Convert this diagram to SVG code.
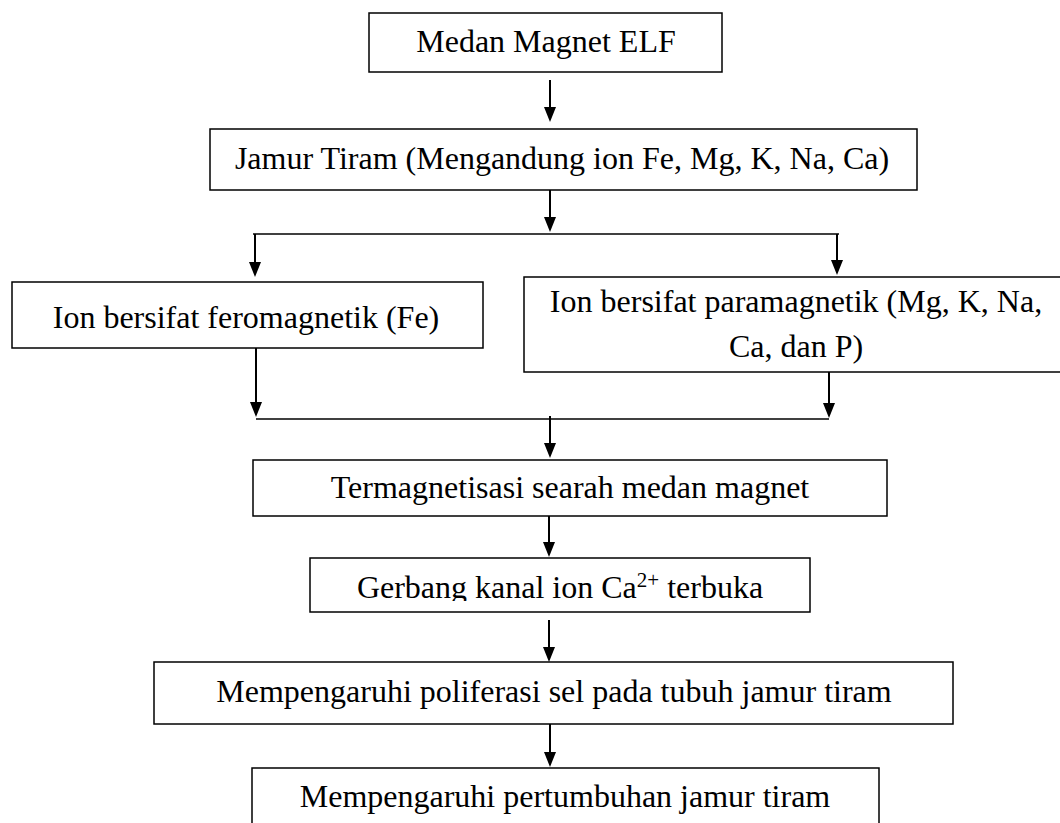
<svg xmlns="http://www.w3.org/2000/svg" width="1060" height="823" viewBox="0 0 1060 823">
  <style>
    .box { fill: #ffffff; stroke: #000000; stroke-width: 1.5; }
    .lbl { font-family: "Liberation Serif", "Times New Roman", serif; font-size: 32px; fill: #000000; text-anchor: middle; }
    .shaft { stroke: #000000; stroke-width: 2; fill: none; }
    .bus { stroke: #000000; stroke-width: 1.5; fill: none; }
  </style>
  <defs>
    <marker id="arrow" viewBox="0 0 15 12" refX="12" refY="6" markerWidth="15" markerHeight="12" markerUnits="userSpaceOnUse" orient="auto">
      <path d="M0,0 L15,6 L0,12 z" fill="#000000"/>
    </marker>
    <clipPath id="clipGerbang">
      <rect x="300" y="555" width="520" height="46"/>
    </clipPath>
  </defs>
  <rect x="0" y="0" width="1060" height="823" fill="#ffffff"/>

  <g id="connectors">
    <line class="shaft" x1="550" y1="80" x2="550" y2="119" marker-end="url(#arrow)"/>
    <line class="shaft" x1="550" y1="190" x2="550" y2="229" marker-end="url(#arrow)"/>
    <line class="bus" x1="253" y1="234" x2="839" y2="234"/>
    <line class="shaft" x1="255" y1="234" x2="255" y2="274" marker-end="url(#arrow)"/>
    <line class="shaft" x1="837" y1="234" x2="837" y2="272" marker-end="url(#arrow)"/>
    <line class="shaft" x1="256" y1="348" x2="256" y2="414" marker-end="url(#arrow)"/>
    <line class="shaft" x1="829" y1="372" x2="829" y2="415" marker-end="url(#arrow)"/>
    <line class="bus" x1="256" y1="419" x2="829" y2="419"/>
    <line class="shaft" x1="550" y1="416" x2="550" y2="455" marker-end="url(#arrow)"/>
    <line class="shaft" x1="549" y1="516" x2="549" y2="554" marker-end="url(#arrow)"/>
    <line class="shaft" x1="549" y1="620" x2="549" y2="659" marker-end="url(#arrow)"/>
    <line class="shaft" x1="550" y1="724" x2="550" y2="764" marker-end="url(#arrow)"/>
  </g>

  <g id="node-medan">
    <rect class="box" x="369" y="13" width="353" height="59"/>
    <text class="lbl" x="546" y="52">Medan Magnet ELF</text>
  </g>

  <g id="node-jamur">
    <rect class="box" x="210" y="129" width="707" height="61"/>
    <text class="lbl" x="562" y="169">Jamur Tiram (Mengandung ion Fe, Mg, K, Na, Ca)</text>
  </g>

  <g id="node-fero">
    <rect class="box" x="12" y="282" width="471" height="66"/>
    <text class="lbl" x="246" y="328">Ion bersifat feromagnetik (Fe)</text>
  </g>

  <g id="node-para">
    <rect class="box" x="524" y="277" width="540" height="95"/>
    <text class="lbl" x="796" y="312">Ion bersifat paramagnetik (Mg, K, Na,</text>
    <text class="lbl" x="796" y="357">Ca, dan P)</text>
  </g>

  <g id="node-termagnetisasi">
    <rect class="box" x="253" y="460" width="634" height="56"/>
    <text class="lbl" x="570" y="498">Termagnetisasi searah medan magnet</text>
  </g>

  <g id="node-gerbang">
    <rect class="box" x="310" y="558" width="500" height="54"/>
    <text class="lbl" x="560" y="598" clip-path="url(#clipGerbang)">Gerbang kanal ion Ca<tspan font-size="21" dy="-11">2+</tspan><tspan dy="11"> terbuka</tspan></text>
  </g>

  <g id="node-poliferasi">
    <rect class="box" x="154" y="662" width="799" height="62"/>
    <text class="lbl" x="554" y="702">Mempengaruhi poliferasi sel pada tubuh jamur tiram</text>
  </g>

  <g id="node-pertumbuhan">
    <rect class="box" x="252" y="768" width="627" height="70"/>
    <text class="lbl" x="565" y="807">Mempengaruhi pertumbuhan jamur tiram</text>
  </g>
</svg>
